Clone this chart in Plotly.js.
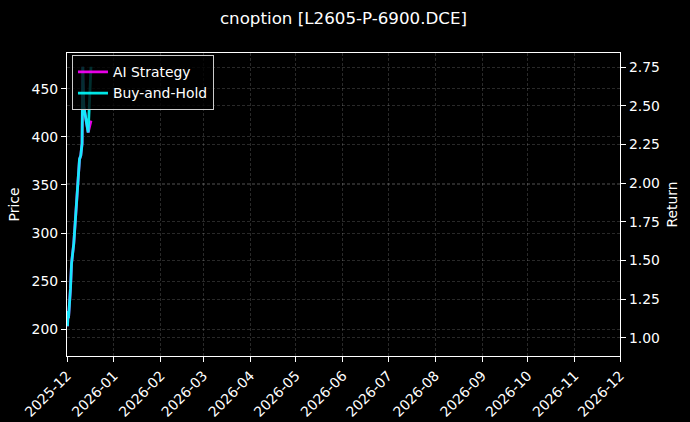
<!DOCTYPE html>
<html>
<head>
<meta charset="utf-8">
<script src="https://cdn.plot.ly/plotly-3.0.1.min.js"></script>
<style>
  html, body { margin: 0; padding: 0; background: #000; }
  #chart { width: 690px; height: 422px; }
</style>
</head>
<body>
<div id="chart"></div>
<script>
// ---- data ----
const chartTitle = "cnoption [L2605-P-6900.DCE]";

const bhDates = [
  "2025-12-01 08:00", "2025-12-01 17:30", "2025-12-02 00:00", "2025-12-03 07:30",
  "2025-12-04 00:00", "2025-12-05 11:30", "2025-12-07 22:00", "2025-12-09 01:00",
  "2025-12-09 06:00", "2025-12-10 02:30", "2025-12-10 23:00", "2025-12-11 10:00",
  "2025-12-12 02:00", "2025-12-14 23:30", "2025-12-16 20:00"
];
const bhReturn = [
  1.075, 1.172, 1.127, 1.321,
  1.482, 1.611, 1.953, 2.083,
  2.154, 2.180, 2.257, 2.753,
  2.496, 2.328, 2.753
];

const aiDates = [
  "2025-12-01 08:00", "2025-12-01 17:30", "2025-12-02 00:00", "2025-12-03 07:30",
  "2025-12-04 00:00", "2025-12-05 11:30", "2025-12-07 22:00", "2025-12-09 01:00",
  "2025-12-09 06:00", "2025-12-10 02:30", "2025-12-10 23:00", "2025-12-11 10:00",
  "2025-12-12 02:00", "2025-12-14 23:30", "2025-12-16 20:00"
];
const aiReturn = [
  1.075, 1.172, 1.127, 1.321,
  1.482, 1.611, 1.953, 2.083,
  2.154, 2.180, 2.257, 2.753,
  2.496, 2.328, 2.405
];

// price series is not drawn in the reference (only its axis is shown)
const priceDates = [];
const priceValues = [];

const monthTicks = [
  "2025-12-01", "2026-01-01", "2026-02-01", "2026-03-01", "2026-04-01", "2026-05-01",
  "2026-06-01", "2026-07-01", "2026-08-01", "2026-09-01", "2026-10-01", "2026-11-01", "2026-12-01"
];
const monthLabels = [
  "2025-12", "2026-01", "2026-02", "2026-03", "2026-04", "2026-05",
  "2026-06", "2026-07", "2026-08", "2026-09", "2026-10", "2026-11", "2026-12"
];
const priceTicks = [200, 250, 300, 350, 400, 450];
const returnTicks = [1.00, 1.25, 1.50, 1.75, 2.00, 2.25, 2.50, 2.75];

// ---- chart ----
const FONT = "DejaVu Sans, Liberation Sans, sans-serif";
const gridCol = "rgba(255,255,255,0.2)";
const gridDash = "3px,2px";

const traces = [
  {
    x: priceDates, y: priceValues, name: "Price", type: "scatter", mode: "lines",
    yaxis: "y", showlegend: false, hoverinfo: "skip", line: { color: "#888", width: 1 }
  },
  {
    x: aiDates, y: aiReturn, name: "AI Strategy", type: "scatter", mode: "lines",
    yaxis: "y2", line: { color: "rgba(255,0,255,0.9)", width: 2.8 }
  },
  {
    x: bhDates, y: bhReturn, name: "Buy-and-Hold", type: "scatter", mode: "lines",
    yaxis: "y2", line: { color: "rgba(0,255,255,0.9)", width: 2.8 }
  }
];

const layout = {
  width: 690, height: 422,
  paper_bgcolor: "#000", plot_bgcolor: "#000",
  font: { family: FONT, color: "#fff", size: 13.9 },
  margin: { l: 67, r: 70, t: 52.5, b: 66, pad: 0 },
  title: {
    text: chartTitle, font: { family: FONT, size: 16.7, color: "#fff" },
    x: 0.5, xanchor: "center", y: 1 - 18 / 422, yanchor: "middle", xref: "paper"
  },
  showlegend: true,
  legend: {
    x: 0.009, y: 0.992, xanchor: "left", yanchor: "top",
    bgcolor: "rgba(0,0,0,0.8)", bordercolor: "#cccccc", borderwidth: 1,
    font: { family: FONT, size: 13.9, color: "#fff" }
  },
  xaxis: {
    type: "date", range: ["2025-12-01", "2026-12-01"],
    tickmode: "array", tickvals: monthTicks, ticktext: monthLabels, tickangle: -45,
    ticks: "outside", ticklen: 5, tickwidth: 1, tickcolor: "#fff",
    showline: true, linecolor: "#fff", linewidth: 1.1, mirror: true,
    showgrid: true, gridcolor: gridCol, griddash: gridDash, gridwidth: 0.8,
    zeroline: false, tickfont: { family: FONT, size: 13.9, color: "#fff" }
  },
  yaxis: {
    range: [172.3, 487.1], tickmode: "array", tickvals: priceTicks,
    ticks: "outside", ticklen: 5, tickwidth: 1, tickcolor: "#fff",
    showline: true, linecolor: "#fff", linewidth: 1.1,
    showgrid: true, gridcolor: gridCol, griddash: gridDash, gridwidth: 0.8,
    zeroline: false, tickfont: { family: FONT, size: 13.9, color: "#fff" },
    title: { text: "Price", font: { family: FONT, size: 13.9, color: "#fff" }, standoff: 8 }
  },
  yaxis2: {
    overlaying: "y", side: "right",
    range: [0.882, 2.842], tickmode: "array", tickvals: returnTicks, tickformat: ".2f",
    ticks: "outside", ticklen: 5, tickwidth: 1, tickcolor: "#fff",
    showline: true, linecolor: "#fff", linewidth: 1.1,
    showgrid: true, gridcolor: gridCol, griddash: gridDash, gridwidth: 0.8,
    zeroline: false, tickfont: { family: FONT, size: 13.9, color: "#fff" },
    title: { text: "Return", font: { family: FONT, size: 13.9, color: "#fff" }, standoff: 8 }
  }
};

Plotly.newPlot("chart", traces, layout, { staticPlot: true, displayModeBar: false });
</script>
</body>
</html>
